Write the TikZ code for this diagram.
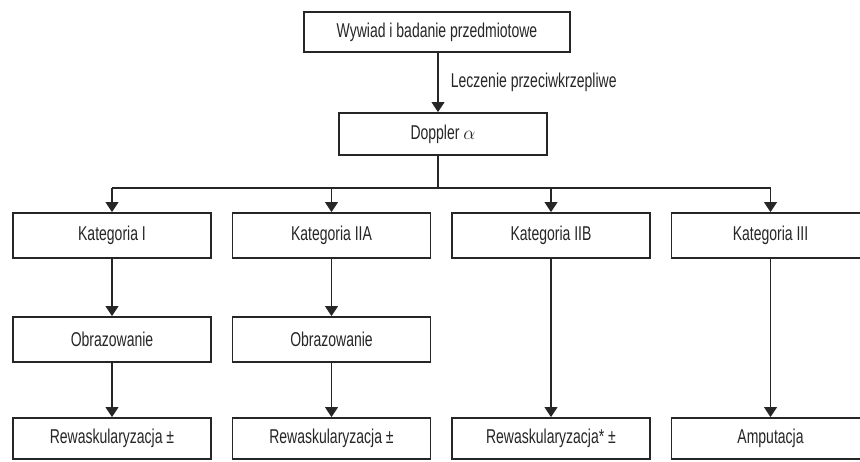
\documentclass[tikz,border=0pt]{standalone}
\usepackage{fontspec}
\setmainfont[FakeStretch=0.7]{Liberation Sans}
\usetikzlibrary{arrows.meta}
\definecolor{ink}{HTML}{262626}
\tikzset{
  box/.style={draw=ink, line width=1.3pt, fill=white, text=ink, font=\fontsize{15}{17}\selectfont, inner sep=0pt},
  catbox/.style={box, minimum width=148.5pt, minimum height=33.75pt},
  resbox/.style={box, minimum width=148.5pt, minimum height=30.75pt},
  conn/.style={draw=ink, line width=1.3pt, -{Triangle[width=9.5pt,length=7.5pt]}},
  plain/.style={draw=ink, line width=1.3pt},
  lbl/.style={text=ink, font=\fontsize{15}{17}\selectfont, inner sep=0pt, anchor=west}
}
\begin{document}
\begin{tikzpicture}[x=0.75pt, y=-0.75pt]
\useasboundingbox (0,0) rectangle (860,461);
\clip (0,0) rectangle (860,461);
\node[box, minimum width=199.5pt, minimum height=30pt] (top) at (437,32) {Wywiad i badanie przedmiotowe};
\node[box, minimum width=156pt, minimum height=31.5pt] (dop) at (443,134) {Doppler $\alpha$};
\node[catbox] (k1) at (112,235.5) {Kategoria I};
\node[catbox] (k2) at (331.5,235.5) {Kategoria IIA};
\node[catbox] (k3) at (551,235.5) {Kategoria IIB};
\node[catbox] (k4) at (770.5,235.5) {Kategoria III};
\node[catbox] (o1) at (112,339.5) {Obrazowanie};
\node[catbox] (o2) at (331.5,339.5) {Obrazowanie};
\node[resbox] (r1) at (112,438.5) {Rewaskularyzacja ±};
\node[resbox] (r2) at (331.5,438.5) {Rewaskularyzacja ±};
\node[resbox] (r3) at (551,438.5) {Rewaskularyzacja* ±};
\node[resbox] (r4) at (770.5,438.5) {Amputacja};
\coordinate (tx) at (438,52);
\draw[conn] (tx) -- (tx |- dop.north) node[lbl, midway, xshift=9pt] {Leczenie przeciwkrzepliwe};
\coordinate (bx) at (438,155);
\coordinate (by) at (438,188);
\draw[plain] (bx) -- (by);
\draw[plain] (k1.north |- by) -- (k4.north |- by);
\draw[conn] (k1.north |- by) -- (k1.north);
\draw[conn] (k2.north |- by) -- (k2.north);
\draw[conn] (k3.north |- by) -- (k3.north);
\draw[conn] (k4.north |- by) -- (k4.north);
\draw[conn] (k1) -- (o1);
\draw[conn] (k2) -- (o2);
\draw[conn] (o1) -- (r1);
\draw[conn] (o2) -- (r2);
\draw[conn] (k3) -- (r3);
\draw[conn] (k4) -- (r4);
\end{tikzpicture}
\end{document}
